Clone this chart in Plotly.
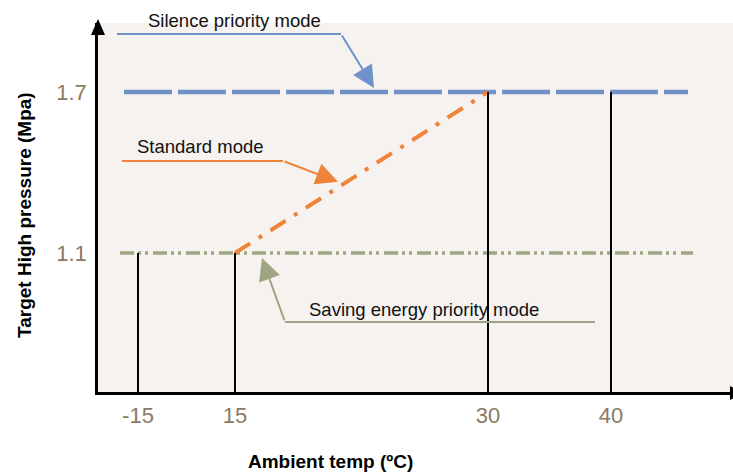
import plotly.graph_objects as go

# Ambient temperature breakpoints (°C), as labelled on the x axis
temp_labels = ["-15", "15", "30", "40"]
# Target high pressure of each operating mode (MPa)
silence_mpa = 1.7
saving_mpa = 1.1
standard_temps = ["15", "30"]
standard_mpa = [1.1, 1.7]
# Pressure reached by the guide line at each breakpoint
drop_mpa = [1.1, 1.1, 1.7, 1.7]
pressure_ticks = [1.1, 1.7]
pressure_labels = ["1.1", "1.7"]

# Schematic (not to scale) horizontal position of each breakpoint
slot = {"-15": 40, "15": 137, "30": 390, "40": 513}
X_RANGE = [0, 635]
Y_RANGE = [0.582, 1.957]

BLUE = "#7191C9"
ORANGE = "#EF8339"
GREEN = "#9EA582"
TICK = "#8A7A63"
FONT = "Liberation Sans, Arial, sans-serif"

# Plot-area box in page pixels, used to place decorations outside the axes
L, T, W, H = 98, 23, 635, 369


def px(x):
    return (x - L) / W


def py(y):
    return (T + H - y) / H


fig = go.Figure()

# Silence priority mode: constant high pressure
fig.add_trace(go.Scatter(
    x=[26, 590], y=[silence_mpa, silence_mpa], mode="lines",
    line=dict(color=BLUE, width=4.5, dash="48px,6px"),
    hoverinfo="skip", showlegend=False))

# Saving energy priority mode: constant low pressure
fig.add_trace(go.Scatter(
    x=[22, 595], y=[saving_mpa, saving_mpa], mode="lines",
    line=dict(color=GREEN, width=3.5, dash="14px,4px,3px,4px,3px,5px"),
    hoverinfo="skip", showlegend=False))

# Standard mode: ramps with ambient temperature
fig.add_trace(go.Scatter(
    x=[slot[t] for t in standard_temps], y=standard_mpa, mode="lines",
    line=dict(color=ORANGE, width=4, dash="18px,10px,4px,10px"),
    hoverinfo="skip", showlegend=False))

# Vertical guides from the temperature axis up to each curve
gx, gy = [], []
for t, level in zip(temp_labels, drop_mpa):
    gx += [slot[t], slot[t], None]
    gy += [Y_RANGE[0], level, None]
fig.add_trace(go.Scatter(
    x=gx, y=gy, mode="lines", line=dict(color="black", width=2),
    hoverinfo="skip", showlegend=False))

shapes = []
annotations = []


def callout(text, text_xy, leg, elbow, tip, color, text_ref_y="y"):
    # horizontal leader leg
    shapes.append(dict(type="line", xref="x", yref="y",
                       x0=leg[0], y0=leg[1], x1=elbow[0], y1=elbow[1],
                       line=dict(color=color, width=2)))
    # slanted leg ending in an arrowhead
    annotations.append(dict(x=tip[0], y=tip[1], ax=elbow[0], ay=elbow[1],
                            xref="x", yref="y", axref="x", ayref="y",
                            text="", showarrow=True, arrowhead=2,
                            arrowsize=2.2, arrowwidth=2, arrowcolor=color))
    annotations.append(dict(x=text_xy[0], y=text_xy[1], xref="x", yref=text_ref_y,
                            text=text, showarrow=False, xanchor="left",
                            yanchor="middle",
                            font=dict(family=FONT, size=18.5, color="#111111")))


callout("Silence priority mode", (48, py(21)), (19, 1.916), (243, 1.916),
        (276, 1.715), BLUE, text_ref_y="paper")
callout("Standard mode", (37, 1.495), (24, 1.443), (185, 1.443),
        (240, 1.365), ORANGE)
callout("Saving energy priority mode", (209, 0.888), (497, 0.843), (187, 0.843),
        (164, 1.081), GREEN)

# Axis arrowheads
shapes.append(dict(type="path", xref="paper", yref="paper",
                   path=f"M {px(98)},{py(19)} L {px(91)},{py(35)} L {px(105)},{py(35)} Z",
                   fillcolor="black", line=dict(width=0)))
shapes.append(dict(type="path", xref="paper", yref="paper",
                   path=f"M {px(744)},{py(393)} L {px(730)},{py(386)} L {px(730)},{py(400)} Z",
                   fillcolor="black", line=dict(width=0)))

# Axis titles
annotations.append(dict(x=px(25), y=py(215), xref="paper", yref="paper",
                        xanchor="center", yanchor="middle",
                        text="<b>Target High pressure (Mpa)</b>", textangle=-90,
                        showarrow=False,
                        font=dict(family=FONT, size=19, color="black")))
annotations.append(dict(x=px(330), y=py(461), xref="paper", yref="paper",
                        xanchor="center", yanchor="middle",
                        text="<b>Ambient temp (ºC)</b>", showarrow=False,
                        font=dict(family=FONT, size=19, color="black")))

fig.update_layout(
    width=733, height=473, autosize=False,
    margin=dict(l=L, r=733 - L - W, t=T, b=473 - T - H, pad=0),
    paper_bgcolor="white", plot_bgcolor="#F5F2F0",
    shapes=shapes, annotations=annotations,
    xaxis=dict(range=X_RANGE, tickvals=[slot[t] for t in temp_labels],
               ticktext=temp_labels, showgrid=False, zeroline=False,
               showline=True, linecolor="black", linewidth=2.5,
               ticks="", ticklabelstandoff=2,
               tickfont=dict(family=FONT, size=22, color=TICK)),
    yaxis=dict(range=Y_RANGE, tickvals=pressure_ticks, ticktext=pressure_labels,
               showgrid=False, zeroline=False, showline=True,
               linecolor="black", linewidth=2.5, ticks="", ticklabelstandoff=4,
               tickfont=dict(family=FONT, size=22, color=TICK)),
)

fig.write_html("out.html")
